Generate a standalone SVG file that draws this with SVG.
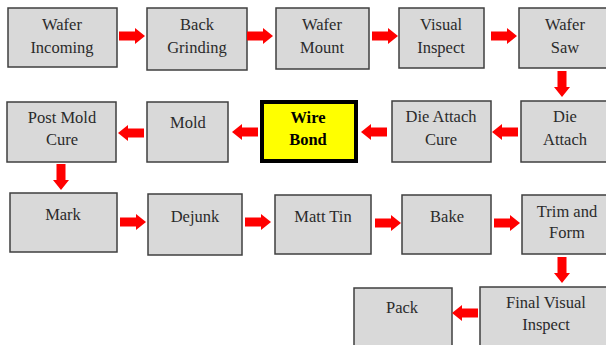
<svg xmlns="http://www.w3.org/2000/svg" xmlns:xlink="http://www.w3.org/1999/xlink" width="606" height="345" viewBox="0 0 606 345">
<style>
.box{fill:#d9d9d9;stroke:#3f3f3f;stroke-width:1.5}
.hl{fill:#ffff00;stroke:#000;stroke-width:4}
text{font-family:"Liberation Serif","Times New Roman",serif;font-size:16.5px;fill:#2b2b2b;text-anchor:middle}
.b{font-weight:bold;fill:#000}
.arr{fill:#ff0000}
</style>
<defs>
<path id="ar" class="arr" d="M0,-4.5 H16 V-8 L26,0 L16,8 V4.5 H0 Z"/>
</defs>
<rect width="606" height="345" fill="#fff"/>
<g id="n1"><rect class="box" x="8" y="8" width="109" height="59"/><text x="62" y="30">Wafer</text><text x="62" y="53">Incoming</text></g>
<g id="n2"><rect class="box" x="147" y="8" width="100" height="62"/><text x="197" y="30">Back</text><text x="197" y="53">Grinding</text></g>
<g id="n3"><rect class="box" x="276" y="8" width="93" height="61"/><text x="322" y="30">Wafer</text><text x="322" y="53">Mount</text></g>
<g id="n4"><rect class="box" x="399" y="8" width="85" height="60"/><text x="441" y="30">Visual</text><text x="441" y="53">Inspect</text></g>
<g id="n5"><rect class="box" x="519" y="8" width="92" height="60"/><text x="565" y="30">Wafer</text><text x="565" y="53">Saw</text></g>
<g id="n6"><rect class="box" x="521" y="101" width="90" height="61"/><text x="565" y="122">Die</text><text x="565" y="145">Attach</text></g>
<g id="n7"><rect class="box" x="392" y="101" width="99" height="61"/><text x="441" y="122">Die Attach</text><text x="441" y="145">Cure</text></g>
<g id="n8"><rect class="hl" x="262" y="102" width="94" height="59"/><text class="b" x="308" y="123">Wire</text><text class="b" x="308" y="145">Bond</text></g>
<g id="n9"><rect class="box" x="147" y="102" width="81" height="60"/><text x="188" y="128">Mold</text></g>
<g id="n10"><rect class="box" x="7" y="102" width="109" height="60"/><text x="62" y="123">Post Mold</text><text x="62" y="145">Cure</text></g>
<g id="n11"><rect class="box" x="10" y="193" width="107" height="59"/><text x="63" y="220">Mark</text></g>
<g id="n12"><rect class="box" x="148" y="194" width="94" height="61"/><text x="195" y="222">Dejunk</text></g>
<g id="n13"><rect class="box" x="275" y="195" width="96" height="59"/><text x="323" y="222">Matt Tin</text></g>
<g id="n14"><rect class="box" x="402" y="195" width="89" height="59"/><text x="447" y="222">Bake</text></g>
<g id="n15"><rect class="box" x="522" y="195" width="89" height="59"/><text x="567" y="217">Trim and</text><text x="567" y="238">Form</text></g>
<g id="n16"><rect class="box" x="480" y="287" width="131" height="65"/><text x="546" y="308">Final Visual</text><text x="546" y="330">Inspect</text></g>
<g id="n17"><rect class="box" x="354" y="288" width="98" height="64"/><text x="402" y="313">Pack</text></g>
<g id="connectors">
<use xlink:href="#ar" transform="translate(119,36)"/>
<use xlink:href="#ar" transform="translate(247,36)"/>
<use xlink:href="#ar" transform="translate(372,36)"/>
<use xlink:href="#ar" transform="translate(491,36)"/>
<use xlink:href="#ar" transform="translate(562,71) rotate(90)"/>
<use xlink:href="#ar" transform="translate(518,132) rotate(180)"/>
<use xlink:href="#ar" transform="translate(387,132) rotate(180)"/>
<use xlink:href="#ar" transform="translate(258,132) rotate(180)"/>
<use xlink:href="#ar" transform="translate(144,133) rotate(180)"/>
<use xlink:href="#ar" transform="translate(61,164) rotate(90)"/>
<use xlink:href="#ar" transform="translate(120,222)"/>
<use xlink:href="#ar" transform="translate(245,222)"/>
<use xlink:href="#ar" transform="translate(375,223)"/>
<use xlink:href="#ar" transform="translate(494,223)"/>
<use xlink:href="#ar" transform="translate(562,257) rotate(90)"/>
<use xlink:href="#ar" transform="translate(478,313) rotate(180)"/>
</g>
</svg>
